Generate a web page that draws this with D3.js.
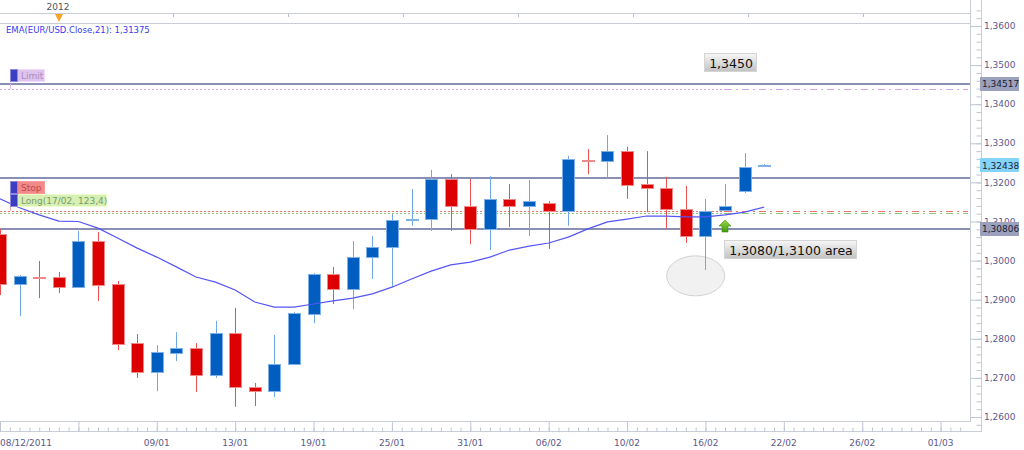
<!DOCTYPE html>
<html>
<head>
<meta charset="utf-8">
<script src="https://cdn.jsdelivr.net/npm/d3@7"></script>
<style>
  body { margin: 0; background: #fff; }
  svg { display: block; font-family: "DejaVu Sans", sans-serif; }
</style>
</head>
<body>
<script>
// daily EUR/USD candles
const opens  = [1.3068,1.2940,1.2958,1.2958,1.2932,1.3050,1.2940,1.2789,1.2715,1.2764,1.2776,1.2707,1.2815,1.2677,1.2666,1.2736,1.2863,1.2966,1.2927,1.3009,1.3035,1.3104,1.3106,1.3209,1.3140,1.3081,1.3158,1.3140,1.3147,1.3127,1.3257,1.3255,1.3280,1.3196,1.3186,1.3132,1.3063,1.3129,1.3178,1.3242];
const highs  = [1.3081,1.2963,1.2999,1.2971,1.3076,1.3073,1.2948,1.2812,1.2784,1.2817,1.2789,1.2846,1.2879,1.2687,1.2810,1.2869,1.2968,1.2984,1.3050,1.3063,1.3119,1.3183,1.3232,1.3221,1.3209,1.3216,1.3196,1.3206,1.3152,1.3268,1.3285,1.3321,1.3291,1.3280,1.3214,1.3191,1.3158,1.3196,1.3275,1.3247];
const lows   = [1.2912,1.2858,1.2904,1.2917,1.2932,1.2897,1.2771,1.2700,1.2666,1.2743,1.2664,1.2700,1.2626,1.2628,1.2651,1.2736,1.2840,1.2889,1.2876,1.2953,1.2932,1.3089,1.3076,1.3076,1.3042,1.3027,1.3086,1.3063,1.3030,1.3089,1.3221,1.3214,1.3158,1.3124,1.3081,1.3045,1.2976,1.3124,1.3173,1.3242];
const closes = [1.2940,1.2961,1.2956,1.2932,1.3050,1.2938,1.2787,1.2715,1.2766,1.2776,1.2707,1.2815,1.2677,1.2666,1.2736,1.2866,1.2966,1.2927,1.3009,1.3035,1.3104,1.3106,1.3209,1.3140,1.3081,1.3158,1.3140,1.3152,1.3127,1.3260,1.3255,1.3280,1.3193,1.3186,1.3132,1.3063,1.3127,1.3140,1.3239,1.3244];

// EMA(21) of the closes, as drawn
const ema = [1.3158,1.3135,1.3117,1.3101,1.3100,1.3083,1.3058,1.3032,1.3009,1.2984,1.2958,1.2945,1.2925,1.2894,1.2881,1.2881,1.2889,1.2897,1.2904,1.2915,1.2932,1.2953,1.2973,1.2989,1.2996,1.3009,1.3027,1.3037,1.3045,1.3060,1.3081,1.3099,1.3106,1.3114,1.3114,1.3112,1.3112,1.3117,1.3124,1.3137];

// x axis: one label every 4 candles
const dateTickIdx = [0,4,8,12,16,20,24,28,32,36,40,44,48];
const dateLabels  = ["08/12/2011","","09/01","13/01","19/01","25/01","31/01","06/02","10/02","16/02","22/02","26/02","01/03"];

const priceTicks = [1.26,1.27,1.28,1.29,1.30,1.31,1.32,1.33,1.34,1.35,1.36];

// horizontal lines on the chart
const solidLevels  = [1.34517, 1.3211, 1.30806];
const limitLevel = 1.3439;
const stopLevel  = 1.3127;
const entryLevel = 1.3121;
const axisMarkers = [
  { v: 1.34517, bg: "#9ba1bd" },
  { v: 1.32438, bg: "#84d3fa" },
  { v: 1.30806, bg: "#9ba1bd" }
];

const width = 1024;
const height = 450;
const plot = { left: 0, right: 970, top: 23, bottom: 422 };
const fmt = v => d3.format(".4f")(v).replace(".", ",");

const svg = d3.select("body")
  .append("svg")
  .attr("width", width)
  .attr("height", height);

const x = d3.scaleLinear().domain([0, 49.5]).range([0, 970]);
const y = d3.scaleLinear().domain([1.26, 1.36]).range([417, 26]);

const defs = svg.append("defs");
defs.append("clipPath").attr("id", "plotclip")
  .append("rect")
  .attr("x", plot.left).attr("y", plot.top)
  .attr("width", plot.right - plot.left).attr("height", plot.bottom - plot.top);

const grad = defs.append("linearGradient").attr("id", "boxgrad")
  .attr("x1", 0).attr("y1", 0).attr("x2", 0).attr("y2", 1);
grad.append("stop").attr("offset", "0%").attr("stop-color", "#f7f7f7");
grad.append("stop").attr("offset", "100%").attr("stop-color", "#c2c2c2");

const arrowGrad = defs.append("linearGradient").attr("id", "arrowgrad")
  .attr("x1", 0).attr("y1", 0).attr("x2", 0).attr("y2", 1);
arrowGrad.append("stop").attr("offset", "0%").attr("stop-color", "#9ad840");
arrowGrad.append("stop").attr("offset", "100%").attr("stop-color", "#3f9a10");

// top navigator strip
const nav = svg.append("g");
nav.append("text")
  .attr("x", 58).attr("y", 10)
  .attr("text-anchor", "middle")
  .attr("font-size", 9)
  .attr("fill", "#555")
  .text("2012");
[13.5, 23.5].forEach(yy => {
  nav.append("line")
    .attr("x1", 0).attr("x2", 970).attr("y1", yy).attr("y2", yy)
    .attr("stroke", "#c9cdd8");
});
d3.range(58, 970, 115).forEach(xx => {
  nav.append("line")
    .attr("x1", xx + 0.5).attr("x2", xx + 0.5).attr("y1", 14).attr("y2", 17)
    .attr("stroke", "#b8bcc8");
});
nav.append("path")
  .attr("d", "M55,14 L63,14 L59,22 Z")
  .attr("fill", "#f5a623");

const chart = svg.append("g").attr("clip-path", "url(#plotclip)");

// ellipse under the candles
chart.append("ellipse")
  .attr("cx", x(35.5)).attr("cy", y(1.2961))
  .attr("rx", 29).attr("ry", 20)
  .attr("fill", "#f1f1f1")
  .attr("stroke", "#d2d2d2");

// dotted / dash-dot order lines
const dashSplit = x(37);
function orderLine(v, color) {
  const yy = Math.round(y(v)) + 0.5;
  chart.append("line")
    .attr("x1", 0).attr("x2", dashSplit).attr("y1", yy).attr("y2", yy)
    .attr("stroke", color).attr("stroke-dasharray", "2,2");
  chart.append("line")
    .attr("x1", dashSplit).attr("x2", 968).attr("y1", yy).attr("y2", yy)
    .attr("stroke", color).attr("stroke-dasharray", "7,4,2,4");
}
orderLine(limitLevel, "#d9a0e6");
orderLine(stopLevel, "#f07070");
orderLine(entryLevel, "#8cc878");

// solid horizontal lines
chart.selectAll(".level")
  .data(solidLevels)
  .enter()
  .append("line")
  .attr("class", "level")
  .attr("x1", 0).attr("x2", 970)
  .attr("y1", d => Math.round(y(d)))
  .attr("y2", d => Math.round(y(d)))
  .attr("stroke", "#8a90b4")
  .attr("stroke-width", 2);

// candles
const candles = d3.range(opens.length).map(i => ({
  i, o: opens[i], h: highs[i], l: lows[i], c: closes[i], up: closes[i] >= opens[i]
}));

chart.selectAll(".wick")
  .data(candles)
  .enter()
  .append("line")
  .attr("class", "wick")
  .attr("x1", d => Math.round(x(d.i)) + 0.5)
  .attr("x2", d => Math.round(x(d.i)) + 0.5)
  .attr("y1", d => y(d.h))
  .attr("y2", d => y(d.l))
  .attr("stroke", d => d.up ? "#6ea8e6" : "#ea5050");

chart.selectAll(".body")
  .data(candles)
  .enter()
  .append("rect")
  .attr("class", "body")
  .attr("x", d => Math.round(x(d.i)) - 5.5)
  .attr("y", d => Math.round(y(Math.max(d.o, d.c))) + 0.5)
  .attr("width", 12)
  .attr("height", d => Math.max(1, Math.round(y(Math.min(d.o, d.c)) - y(Math.max(d.o, d.c)))))
  .attr("fill", d => d.up ? "#005ec0" : "#dd0000")
  .attr("stroke", d => d.up ? "#7fb0e8" : "#f08a8a")
  .attr("stroke-width", 1);

// EMA line
chart.append("path")
  .datum(ema)
  .attr("fill", "none")
  .attr("stroke", "#5555f5")
  .attr("stroke-width", 1.2)
  .attr("d", d3.line().x((d, i) => x(i)).y(d => y(d)));

// green entry arrow
const ax = Math.round(x(37));
const ay = Math.round(y(1.3105));
chart.append("path")
  .attr("d", `M${ax - 6},${ay + 6} L${ax},${ay} L${ax + 6},${ay + 6} L${ax + 3},${ay + 6} L${ax + 3},${ay + 12} L${ax - 3},${ay + 12} L${ax - 3},${ay + 6} Z`)
  .attr("fill", "url(#arrowgrad)")
  .attr("stroke", "#3a8a10")
  .attr("stroke-width", 0.6);

// order tags at the left
function tag(yTop, label, fill, textColor, w) {
  const g = chart.append("g");
  g.append("rect")
    .attr("x", 17.5).attr("y", yTop + 0.5).attr("width", w).attr("height", 12)
    .attr("fill", fill).attr("stroke", d3.color(fill).brighter(0.3));
  g.append("rect")
    .attr("x", 10.5).attr("y", yTop + 0.5).attr("width", 7).attr("height", 12)
    .attr("fill", "#3d3dc2").attr("stroke", "#8a8ae0");
  g.append("text")
    .attr("x", 21).attr("y", yTop + 10)
    .attr("font-size", 9)
    .attr("fill", textColor)
    .text(label);
}
chart.append("line")
  .attr("x1", 10.5).attr("x2", 10.5)
  .attr("y1", y(1.34517)).attr("y2", y(limitLevel))
  .attr("stroke", "#e2b4ea");
chart.append("line")
  .attr("x1", 10.5).attr("x2", 10.5)
  .attr("y1", y(1.3211) + 28).attr("y2", y(stopLevel))
  .attr("stroke", "#f2a8a8");
tag(Math.round(y(1.34517)) - 15, "Limit", "#dcc4ec", "#b08ac4", 27);
tag(Math.round(y(1.3211)) + 3, "Stop", "#f28a8a", "#c04848", 27);
tag(Math.round(y(1.3211)) + 16, "Long(17/02, 123,4)", "#d6efb4", "#7c9a66", 89);

// EMA legend
svg.append("text")
  .attr("x", 6).attr("y", 33)
  .attr("font-size", 8.5)
  .attr("fill", "#3a3af0")
  .text("EMA(EUR/USD.Close,21): " + d3.format(".5f")(ema[ema.length - 1] + 0.00005).replace(".", ","));

// annotation boxes
function note(cx, cy, label) {
  const g = svg.append("g");
  const t = g.append("text")
    .attr("x", cx).attr("y", cy)
    .attr("dy", "0.36em")
    .attr("text-anchor", "middle")
    .attr("font-size", 12.5)
    .attr("fill", "#111")
    .text(label);
  const b = t.node().getBBox();
  g.insert("rect", "text")
    .attr("x", Math.round(b.x) - 4.5).attr("y", Math.round(cy) - 9.5)
    .attr("width", Math.round(b.width) + 8).attr("height", 18)
    .attr("fill", "url(#boxgrad)")
    .attr("stroke", "#d4d4d4");
}
note(731, 63, "1,3450");
note(791, 250, "1,3080/1,3100 area");

// frame lines
const frame = svg.append("g").attr("stroke", "#c9cdd8").attr("shape-rendering", "crispEdges");
frame.append("line").attr("x1", 970.5).attr("x2", 970.5).attr("y1", 0).attr("y2", 422);
frame.append("line").attr("x1", 981.5).attr("x2", 981.5).attr("y1", 0).attr("y2", 432);
frame.append("line").attr("x1", 0).attr("x2", 971).attr("y1", 421.5).attr("y2", 421.5);
frame.append("line").attr("x1", 0).attr("x2", 982).attr("y1", 431.5).attr("y2", 431.5);

// right price axis
const yMajor = svg.append("g")
  .attr("transform", "translate(981.5,0)")
  .call(d3.axisLeft(y).tickValues(priceTicks).tickSize(11).tickFormat(""));
const yMinor = svg.append("g")
  .attr("transform", "translate(981.5,0)")
  .call(d3.axisLeft(y).tickValues(d3.range(1.258, 1.3645, 0.002)).tickSize(5).tickFormat(""));
[yMajor, yMinor].forEach(g => {
  g.select(".domain").remove();
  g.selectAll("line").attr("stroke", "#c0c5d4");
});

svg.selectAll(".ylab")
  .data(priceTicks)
  .enter()
  .append("text")
  .attr("class", "ylab")
  .attr("x", 984)
  .attr("y", d => y(d))
  .attr("dy", "0.35em")
  .attr("font-size", 9)
  .attr("fill", "#5a5a8c")
  .text(fmt);

const markers = svg.selectAll(".marker")
  .data(axisMarkers)
  .enter()
  .append("g")
  .attr("class", "marker");
markers.append("rect")
  .attr("x", 980).attr("y", d => Math.round(y(d.v)) - 7)
  .attr("width", 39).attr("height", 14)
  .attr("fill", d => d.bg);
markers.append("text")
  .attr("x", 982).attr("y", d => y(d.v))
  .attr("dy", "0.36em")
  .attr("font-size", 9)
  .attr("fill", "#1c1c30")
  .text(d => d3.format(".5f")(d.v).replace(".", ","));

// bottom date axis
const xMajor = svg.append("g")
  .attr("transform", "translate(0,431.5)")
  .call(d3.axisTop(x).tickValues(dateTickIdx).tickSize(10).tickFormat(""));
const xMinor = svg.append("g")
  .attr("transform", "translate(0,431.5)")
  .call(d3.axisTop(x).tickValues(d3.range(0, 49.5, 0.5)).tickSize(4).tickFormat(""));
[xMajor, xMinor].forEach(g => {
  g.select(".domain").remove();
  g.selectAll("line").attr("stroke", "#c0c5d4");
});

svg.selectAll(".xlab")
  .data(dateTickIdx)
  .enter()
  .append("text")
  .attr("class", "xlab")
  .attr("x", d => d === 0 ? 0 : x(d))
  .attr("y", 446)
  .attr("text-anchor", d => d === 0 ? "start" : "middle")
  .attr("font-size", 9)
  .attr("fill", "#5a5a8c")
  .text((d, i) => dateLabels[i]);
</script>
</body>
</html>
